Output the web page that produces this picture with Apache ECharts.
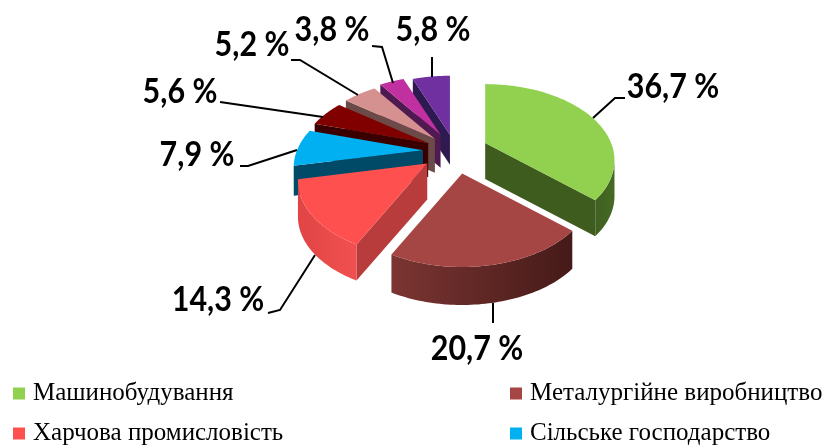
<!DOCTYPE html>
<html>
<head>
<meta charset="utf-8">
<style>html,body{margin:0;padding:0;background:#fff}#main{width:822px;height:446px}</style>
<script src="https://cdn.jsdelivr.net/npm/echarts@6/dist/echarts.min.js"></script>
</head>
<body>
<div id="main"></div>
<script>
// legend names, only the first four are readable in the picture
const categories = ['Машинобудування', 'Металургійне виробництво', 'Харчова промисловість', 'Сільське господарство'];
const shares = [36.7, 20.7, 14.3, 7.9, 5.6, 5.2, 3.8, 5.8];
const shareLabels = ['36,7 %', '20,7 %', '14,3 %', '7,9 %', '5,6 %', '5,2 %', '3,8 %', '5,8 %'];

const topColors = ['#92d050', '#a64644', '#ff5050', '#00b0f0', '#800000', '#d59090', '#c030a0', '#7030a0'];
const wallColors = [['#3f5f20', '#466a24'], ['#7b3532', '#451a18'], ['#e04444', '#f25050'], ['#004a68', '#004a68'],
    ['#3a0000', '#3a0000'], ['#6b4a48', '#6b4a48'], ['#4f1a50', '#4f1a50'], ['#2e1a50', '#2e1a50']];
const sideColors = ['#3f5c1f', '#4a1c1a', '#b83c3c', '#004a68', '#3a0000', '#6b4a48', '#4f1a50', '#2e1a50'];

// look of the tilted pie
const centerX = 455, centerY = 151;
const radiusX = 126, radiusY = 72.3, perspective = 0.2255;
const explode = [33, 39, 35, 32, 30, 29, 31, 28];
const depths = [36, 38, 36, 30, 34, 34, 33, 30];
const drawOrder = [6, 7, 5, 4, 3, 2, 1, 0];

// label centre and leader elbows for each slice
const labelBoxes = [[673, 87], [477, 349], [218, 300], [197, 155], [180, 92], [252, 45], [332, 30], [433, 30]];
const leaders = [
    [[593, 118], [615, 98], [625, 98]],
    [[493, 303], [493, 323]],
    [[315, 255], [280, 310], [268, 313]],
    [[297, 150], [248, 166], [240, 166]],
    [[323, 117], [220, 102]],
    [[358, 95], [300, 60], [291, 60]],
    [[393, 83], [382, 47], [372, 46]],
    [[432, 77], [432, 57]]
];

// legend entry spots, two rows in two columns
const legendLeft = [13, 510, 13, 510];
const legendTop = [381, 381, 421, 421];

const total = shares.reduce((a, b) => a + b, 0);

function ringPoint(apex, angle) {
    let X = Math.sin(angle), Y = -Math.cos(angle);
    let s = 1 / (1 - perspective * Y);
    return [apex[0] + radiusX * X * s, apex[1] + radiusY * Y * s];
}

function renderSlice(i) {
    let before = shares.slice(0, i).reduce((a, b) => a + b, 0);
    let a0 = before / total * Math.PI * 2;
    let a1 = (before + shares[i]) / total * Math.PI * 2;
    let mid = (a0 + a1) / 2;
    let apex = [centerX + explode[i] * Math.sin(mid), centerY - explode[i] * 0.59 * Math.cos(mid)];
    let depth = depths[i];
    let arc = [];
    for (let k = 0; k <= 60; k++) {
        arc.push(ringPoint(apex, a0 + (a1 - a0) * k / 60));
    }
    let down = p => [p[0], p[1] + depth];
    let children = [];

    // flat walls along the two cut edges
    let midPoint = ringPoint(apex, mid);
    [arc[0], arc[60]].forEach(p => {
        let dx = p[0] - apex[0], dy = p[1] - apex[1];
        let nx = -dy, ny = dx;
        if (nx * (midPoint[0] - apex[0]) + ny * (midPoint[1] - apex[1]) > 0) {
            ny = -ny;
        }
        if (ny > 0.5) {
            children.push({type: 'polygon', shape: {points: [apex, p, down(p), down(apex)]},
                style: {fill: sideColors[i]}});
        }
    });

    // rim wall, only the part that faces the viewer
    let run = arc.filter((p, k) => (k < 60 && arc[k + 1][0] < p[0]) || (k == 60 && arc[59][0] > p[0]));
    if (run.length > 1) {
        children.push({type: 'polygon',
            shape: {points: run.concat(run.slice().reverse().map(down))},
            style: {fill: new echarts.graphic.LinearGradient(0, 0, 1, 0, [
                {offset: 0, color: wallColors[i][0]}, {offset: 1, color: wallColors[i][1]}])}});
    }

    children.push({type: 'polygon', shape: {points: [apex].concat(arc)}, style: {fill: topColors[i]}});
    children.push({type: 'polyline', shape: {points: leaders[i]},
        style: {fill: null, stroke: '#000', lineWidth: 2}});
    children.push({type: 'text', x: labelBoxes[i][0], y: labelBoxes[i][1], scaleX: 0.87,
        style: {text: shareLabels[i], font: 'bold 35px Lato', fill: '#000', align: 'center', verticalAlign: 'middle'}});
    return {type: 'group', children: children};
}

let chart = echarts.init(document.getElementById('main'));
let option = {
    animation: false,
    legend: categories.map((name, i) => ({
        data: [name],
        left: legendLeft[i],
        top: legendTop[i],
        padding: 0,
        icon: 'rect',
        itemWidth: 12,
        itemHeight: 12,
        itemGap: 0,
        selectedMode: false,
        textStyle: {fontFamily: 'Liberation Serif', fontSize: 25, color: '#000', padding: [0, 0, 0, 3]}
    })),
    series: shares.map((v, i) => ({
        type: 'custom',
        name: categories[i] || ('slice ' + i),
        coordinateSystem: 'none',
        z: 2 + drawOrder[i],
        silent: true,
        itemStyle: {color: topColors[i]},
        data: [v],
        renderItem: () => renderSlice(i)
    }))
};
chart.setOption(option);
</script>
</body>
</html>
